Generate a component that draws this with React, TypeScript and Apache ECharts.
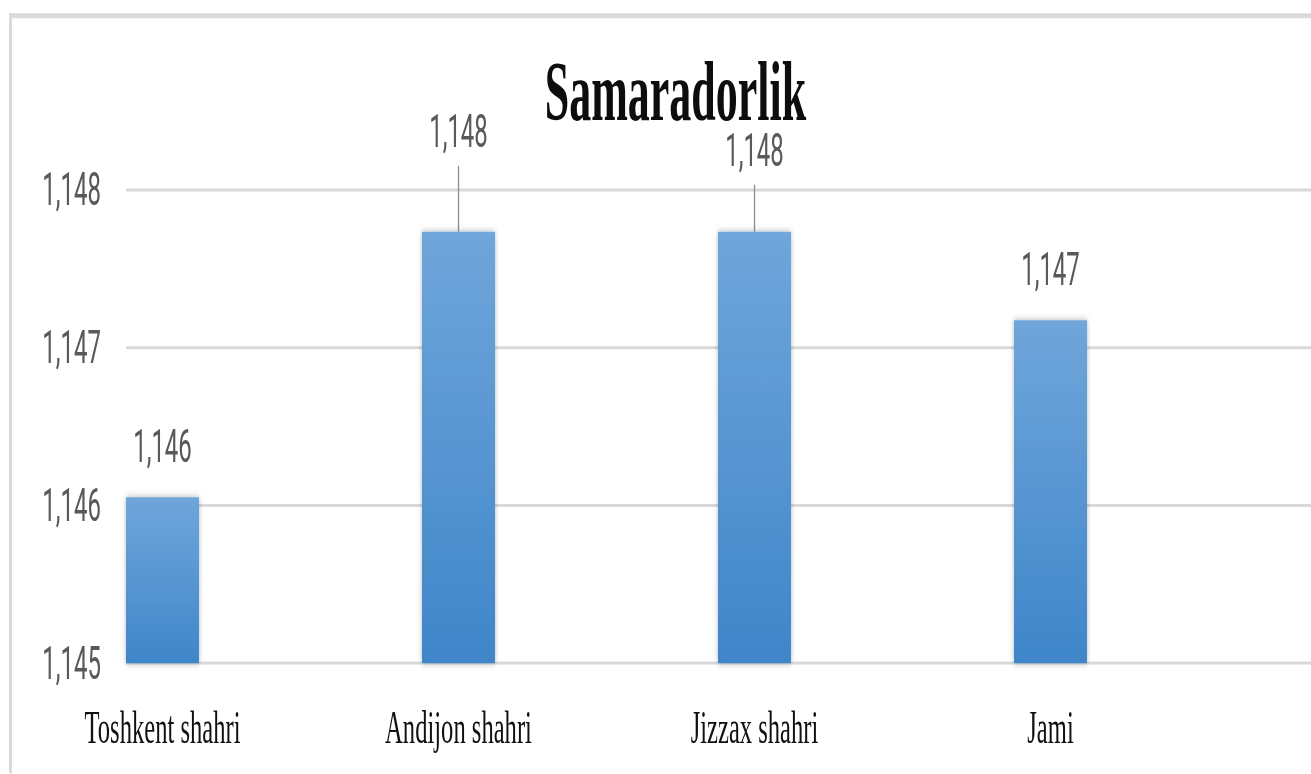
import React, { useEffect, useRef } from "react";
import * as echarts from "echarts";

// ---- data ----
const categories = ["Toshkent shahri", "Andijon shahri", "Jizzax shahri", "Jami"];
const values = [1.14605, 1.14773, 1.14773, 1.14717];
const yMin = 1.145;
const yMax = 1.148;
const yStep = 0.001;
const titleText = "Samaradorlik";

// ---- style / layout (kept apart from data) ----
const S = 1.9; // vertical stretch of the reference picture
const W = 1311;
const H = 774 / S;
const labelLift = [0, 26, 16, 0]; // extra lift of moved data labels (unscaled px)

const fmt = (v: number) => v.toFixed(3).replace(".", ",");

export default function App() {
  const ref = useRef<HTMLDivElement>(null);
  useEffect(() => {
    if (!ref.current) return;
    const chart = echarts.init(ref.current, null, { renderer: "svg" });
    const gridTop = 189 / S;
    const gridBottom = (774 - 664) / S;
    const sansFont = "'Liberation Sans Narrow', Roboto, 'Liberation Sans', sans-serif";
    chart.setOption({
      animation: false,
      backgroundColor: "#ffffff",
      title: {
        text: titleText,
        left: 670.5,
        top: 21,
        textAlign: "center",
        textStyle: {
          fontFamily: "'Liberation Serif', serif",
          fontWeight: "bold",
          fontSize: 44,
          lineHeight: 44,
          color: "#0d0d0d",
        },
      },
      graphic: [
        { type: "rect", shape: { x: 9, y: 7, width: W, height: 2.6 }, style: { fill: "#dadada" }, silent: true },
        { type: "rect", shape: { x: 9, y: 7, width: 3, height: H }, style: { fill: "#dadada" }, silent: true },
      ],
      grid: [
        { left: 14.5, right: W - 1198.5, top: gridTop, bottom: gridBottom },
        { left: 126, right: 0, top: gridTop, bottom: gridBottom },
      ],
      xAxis: [
        {
          type: "category",
          gridIndex: 0,
          data: categories,
          axisLine: { show: false },
          axisTick: { show: false },
          axisLabel: {
            margin: 21,
            fontFamily: "'Liberation Serif', serif",
            fontSize: 24.6,
            color: "#111111",
          },
        },
        { type: "value", gridIndex: 1, min: 0, max: 1, show: false },
      ],
      yAxis: [
        {
          type: "value",
          gridIndex: 0,
          min: yMin,
          max: yMax,
          interval: yStep,
          show: false,
          splitLine: { show: false },
        },
        {
          type: "value",
          gridIndex: 1,
          min: yMin,
          max: yMax,
          interval: yStep,
          axisLine: { show: false },
          axisTick: { show: false },
          axisLabel: {
            margin: 25,
            fontFamily: sansFont,
            fontSize: 24,
            color: "#595959",
            formatter: (v: number) => fmt(v),
          },
          splitLine: { lineStyle: { color: "#d9d9d9", width: 1.6 } },
        },
      ],
      series: [
        {
          type: "bar",
          xAxisIndex: 0,
          yAxisIndex: 0,
          barWidth: 73,
          data: values.map((v, i) => ({
            value: v,
            label: labelLift[i] ? { offset: [0, -labelLift[i]] } : undefined,
          })),
          itemStyle: {
            color: new echarts.graphic.LinearGradient(0, 0, 0, 1, [
              { offset: 0, color: "#6fa6db" },
              { offset: 1, color: "#3f86c9" },
            ]),
            shadowBlur: 4,
            shadowColor: "rgba(0,0,0,0.3)",
          },
          label: {
            show: true,
            position: "top",
            distance: 16,
            fontFamily: sansFont,
            fontSize: 24,
            lineHeight: 22,
            color: "#595959",
            formatter: (p: any) => fmt(p.value),
          },
        },
        {
          type: "custom",
          xAxisIndex: 0,
          yAxisIndex: 0,
          data: values.map((v, i) => [i, v]).filter((_, i) => labelLift[i] > 0),
          renderItem: (params: any, api: any) => {
            const p = api.coord([api.value(0), api.value(1)]);
            const idx = api.value(0);
            const len = labelLift[idx] + 8.7;
            return {
              type: "line",
              shape: { x1: p[0], y1: p[1], x2: p[0], y2: p[1] - len },
              style: { stroke: "#8c8c8c", lineWidth: 1.3 },
            };
          },
          silent: true,
        },
        { type: "line", xAxisIndex: 1, yAxisIndex: 1, data: [], silent: true },
      ],
    });
    return () => chart.dispose();
  }, []);
  return (
    <div
      style={{
        position: "absolute",
        left: 0,
        top: 0,
        width: W,
        height: 774,
        overflow: "hidden",
        background: "#fff",
      }}
    >
      <div
        ref={ref}
        style={{
          width: W,
          height: H,
          transform: `scaleY(${S})`,
          transformOrigin: "0 0",
        }}
      />
    </div>
  );
}
